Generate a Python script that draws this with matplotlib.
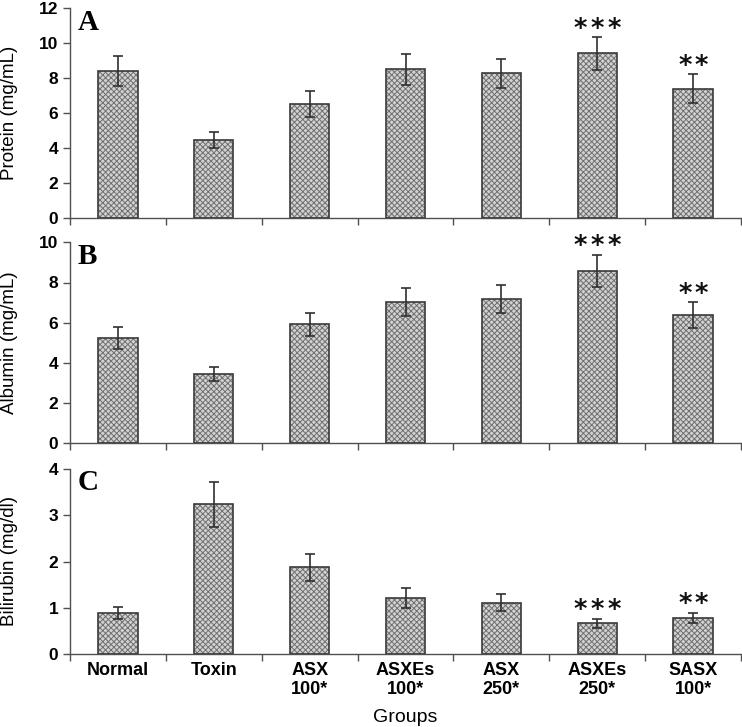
import matplotlib
matplotlib.use("Agg")
import matplotlib.pyplot as plt
import numpy as np

groups = ["Normal", "Toxin", "ASX\n100*", "ASXEs\n100*", "ASX\n250*", "ASXEs\n250*", "SASX\n100*"]

protein = [8.4, 4.45, 6.52, 8.5, 8.26, 9.4, 7.38]
protein_err = [0.86, 0.46, 0.74, 0.88, 0.85, 0.92, 0.82]

albumin = [5.25, 3.45, 5.92, 7.01, 7.18, 8.57, 6.38]
albumin_err = [0.55, 0.36, 0.56, 0.70, 0.70, 0.81, 0.63]

bilirubin = [0.88, 3.24, 1.87, 1.21, 1.11, 0.66, 0.78]
bilirubin_err = [0.13, 0.49, 0.30, 0.21, 0.18, 0.10, 0.11]

stars = [0, 0, 0, 0, 0, 3, 2]

panels = [
    ("A", "Protein (mg/mL)", protein, protein_err, 12, 2),
    ("B", "Albumin (mg/mL)", albumin, albumin_err, 10, 2),
    ("C", "Bilirubin (mg/dl)", bilirubin, bilirubin_err, 4, 1),
]

plt.rcParams['font.family'] = ['Liberation Sans', 'DejaVu Sans']
plt.rcParams['hatch.linewidth'] = 0.7

fig = plt.figure(figsize=(7.42, 7.27), dpi=100)
W, H = 742, 727
left_px, right_px = 70, 741
boxes = [(8, 218), (242.3, 443.3), (469.3, 653.7)]

axis_col = '#505050'
x = np.arange(len(groups))
star_gap = 12  # points between star centres

for i, ((letter, ylabel, vals, errs, ymax, ystep), (top, bot)) in enumerate(zip(panels, boxes)):
    ax = fig.add_axes([left_px / W, 1 - bot / H, (right_px - left_px) / W, (bot - top) / H])
    ax.bar(x, vals, width=0.41, color='#d2d2d2', edgecolor='#707070', hatch='xxxxxx', linewidth=0, zorder=2)
    ax.bar(x, vals, width=0.41, fill=False, edgecolor='#3a3a3a', linewidth=1.2, zorder=3)
    ax.errorbar(x, vals, yerr=errs, fmt='none', ecolor='#303030', elinewidth=1.2, capsize=3.5, capthick=1.2, zorder=4)
    for xi, v, e, n in zip(x, vals, errs, stars):
        for k in range(n):
            dx = (k - (n - 1) / 2) * star_gap
            ax.annotate("*", (xi, v + e), xytext=(dx, 0.5), textcoords='offset points',
                        ha='center', va='baseline', fontsize=18.5, fontweight='bold',
                        family='DejaVu Sans', color='#111111', annotation_clip=False)
    ax.set_xlim(-0.5, len(groups) - 0.5)
    ax.set_ylim(0, ymax)
    ticks = np.arange(0, ymax + 0.01, ystep)
    ax.set_yticks(ticks)
    ax.set_yticklabels([f"{int(t)}" for t in ticks], fontsize=12.5, fontweight='bold')
    ax.set_xticks(np.arange(-0.5, len(groups), 1.0))
    ax.set_xticklabels([])
    ax.set_xticks(x, minor=True)
    if i == 2:
        ax.set_xticklabels(groups, minor=True, fontsize=13, fontweight='bold', linespacing=1.15)
        ax.set_xlabel("Groups", fontsize=14, labelpad=8)
    ax.tick_params(axis='x', which='minor', length=0, pad=6)
    ax.tick_params(axis='both', which='major', direction='out', length=5, width=1.0, color=axis_col)
    for sp in ['top', 'right']:
        ax.spines[sp].set_visible(False)
    for sp in ['left', 'bottom']:
        ax.spines[sp].set_color(axis_col)
        ax.spines[sp].set_linewidth(1.0)
    ax.set_ylabel(ylabel, fontsize=13.5)
    ax.yaxis.set_label_coords(-(left_px - 18) / (right_px - left_px), 0.5)
    ax.text(0.012, 0.93, letter, transform=ax.transAxes, fontsize=21, fontweight='bold',
            family=['Liberation Serif', 'DejaVu Serif'], ha='left', va='center')

fig.savefig("out.png", dpi=100)
